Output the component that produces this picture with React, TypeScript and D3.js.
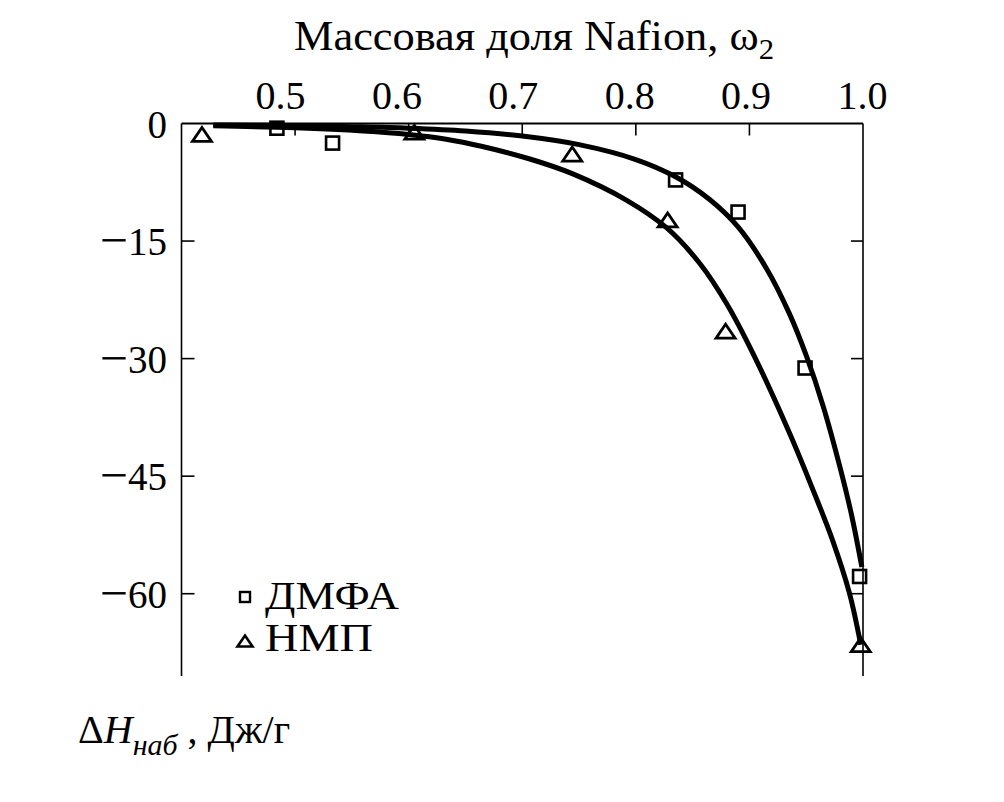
import React from "react";
import * as d3 from "d3";

// ---- data ----
const xTicks = [0.5, 0.6, 0.7, 0.8, 0.9, 1.0];
const xTickLabels = ["0.5", "0.6", "0.7", "0.8", "0.9", "1.0"];
const yTicks = [0, -15, -30, -45, -60];
const yTickLabels = ["0", "15", "30", "45", "60"];

// ДМФА experimental points (squares)
const dmfaX = [0.484, 0.533, 0.835, 0.89, 0.949, 0.997];
const dmfaY = [-0.6, -2.5, -7.2, -11.3, -31.2, -57.8];
// НМП experimental points (triangles)
const nmpX = [0.418, 0.605, 0.744, 0.828, 0.879, 0.998];
const nmpY = [-1.4, -1.1, -3.9, -12.3, -26.5, -66.5];

// fitted curves
const dmfaCurveX = [0.428, 0.5, 0.55, 0.6, 0.65, 0.7, 0.75, 0.8, 0.835, 0.865, 0.89, 0.915, 0.935, 0.95, 0.965, 0.98, 0.99, 0.999];
const dmfaCurveY = [-0.2, -0.25, -0.4, -0.6, -0.95, -1.6, -2.7, -4.6, -6.8, -9.7, -13.2, -18.5, -24.2, -29.6, -36.1, -44.0, -50.0, -56.6];
const nmpCurveX = [0.428, 0.5, 0.56, 0.6, 0.633, 0.664, 0.706, 0.744, 0.792, 0.827, 0.856, 0.88, 0.903, 0.935, 0.955, 0.973, 0.988, 0.998];
const nmpCurveY = [-0.3, -0.55, -0.95, -1.4, -2.0, -2.9, -4.5, -6.4, -9.8, -13.3, -17.8, -23.0, -29.3, -39.4, -46.4, -53.1, -59.9, -66.5];

const legendNames = ["ДМФА", "НМП"];

const FONT = "'Liberation Serif', Tinos, 'Times New Roman', 'DejaVu Serif', serif";

export default function App() {
  const x = d3.scaleLinear().domain([0.4, 1.0]).range([181.5, 863]);
  const xLabel = d3.scaleLinear().domain([0.5, 1.0]).range([280.5, 862.5]);
  const y = d3.scaleLinear().domain([0, -70.5]).range([123.5, 676]);

  const line = d3
    .line<[number, number]>()
    .x((d) => x(d[0]))
    .y((d) => y(d[1]))
    .curve(d3.curveCatmullRom.alpha(0.5));

  const dmfaPath = line(dmfaCurveX.map((v, i) => [v, dmfaCurveY[i]]) as [number, number][]) || "";
  const nmpPath = line(nmpCurveX.map((v, i) => [v, nmpCurveY[i]]) as [number, number][]) || "";

  const sq = 13;
  const triPath = (cx: number, cy: number, w: number, h: number) =>
    `M${cx - w / 2},${cy + h / 2}L${cx + w / 2},${cy + h / 2}L${cx},${cy - h / 2}Z`;

  const x0 = x(0.4);
  const x1 = x(1.0);
  const yTop = y(0);
  const yBot = y(-70.5);
  const ts = { fontFamily: FONT } as React.CSSProperties;

  return (
    <svg
      width={1004}
      height={802}
      style={{ position: "absolute", left: 0, top: 0, background: "#fff", fontFamily: FONT }}
    >
      <rect x={0} y={0} width={1004} height={802} fill="#fff" />
      {/* title */}
      <text x={294} y={50} fontSize={42} fill="#000" style={ts} textLength={480} lengthAdjust="spacingAndGlyphs">
        Массовая доля Nafion, ω<tspan fontSize={29} dy={9}>2</tspan>
      </text>

      {/* frame */}
      <line x1={x0} x2={x1} y1={yTop} y2={yTop} stroke="#000" strokeWidth={2.2} />
      <line x1={x0} x2={x0} y1={yTop} y2={yBot} stroke="#000" strokeWidth={1.6} />
      <line x1={x1} x2={x1} y1={yTop} y2={yBot} stroke="#000" strokeWidth={1.6} />

      {/* top ticks */}
      {xTicks.slice(0, 5).map((t) => (
        <line key={"xt" + t} x1={x(t)} x2={x(t)} y1={yTop} y2={yTop + 12} stroke="#000" strokeWidth={1.6} />
      ))}
      {xTicks.map((t, i) => (
        <text key={"xl" + t} x={xLabel(t)} y={109} fontSize={40} textAnchor="middle" fill="#000" style={ts}>
          {xTickLabels[i]}
        </text>
      ))}

      {/* left / right ticks */}
      {yTicks.slice(1).map((t) => (
        <g key={"yt" + t}>
          <line x1={x0} x2={x0 + 13} y1={y(t)} y2={y(t)} stroke="#000" strokeWidth={1.6} />
          <line x1={x1} x2={x1 - 12} y1={y(t)} y2={y(t)} stroke="#000" strokeWidth={1.6} />
        </g>
      ))}
      {yTicks.map((t, i) => (
        <text key={"yl" + t} x={167} y={y(t) + 14} fontSize={39} textAnchor="end" fill="#000" style={ts}>
          {t < 0 ? <tspan fontSize={50} dy={2}>{"\u2212"}</tspan> : null}
          {t < 0 ? <tspan dy={-2}>{yTickLabels[i]}</tspan> : yTickLabels[i]}
        </text>
      ))}

      {/* curves */}
      <path d={dmfaPath} fill="none" stroke="#000" strokeWidth={5} />
      <path d={nmpPath} fill="none" stroke="#000" strokeWidth={5} />

      {/* points */}
      {dmfaX.map((v, i) => (
        <rect
          key={"d" + i}
          x={x(v) - sq / 2}
          y={y(dmfaY[i]) - sq / 2}
          width={sq}
          height={sq}
          fill="none"
          stroke="#000"
          strokeWidth={2.6}
        />
      ))}
      {nmpX.map((v, i) => (
        <path key={"n" + i} d={triPath(x(v), y(nmpY[i]), 19, 14)} fill="none" stroke="#000" strokeWidth={2.8} />
      ))}

      {/* legend */}
      <rect x={245 - 5} y={597 - 5} width={10} height={10} fill="none" stroke="#000" strokeWidth={2.4} />
      <path d={triPath(245, 641, 15, 11)} fill="none" stroke="#000" strokeWidth={2.6} />
      <text x={265} y={609} fontSize={41} fill="#000" style={ts} textLength={134} lengthAdjust="spacingAndGlyphs">{legendNames[0]}</text>
      <text x={265} y={651} fontSize={41} fill="#000" style={ts} textLength={108} lengthAdjust="spacingAndGlyphs">{legendNames[1]}</text>

      {/* y-axis label */}
      <text x={78} y={743} fontSize={40} fill="#000" style={ts}>
        Δ<tspan fontStyle="italic">H</tspan>
        <tspan fontStyle="italic" fontSize={30} dy={12}>наб</tspan>
        <tspan dy={-12}> , Дж/г</tspan>
      </text>
    </svg>
  );
}
